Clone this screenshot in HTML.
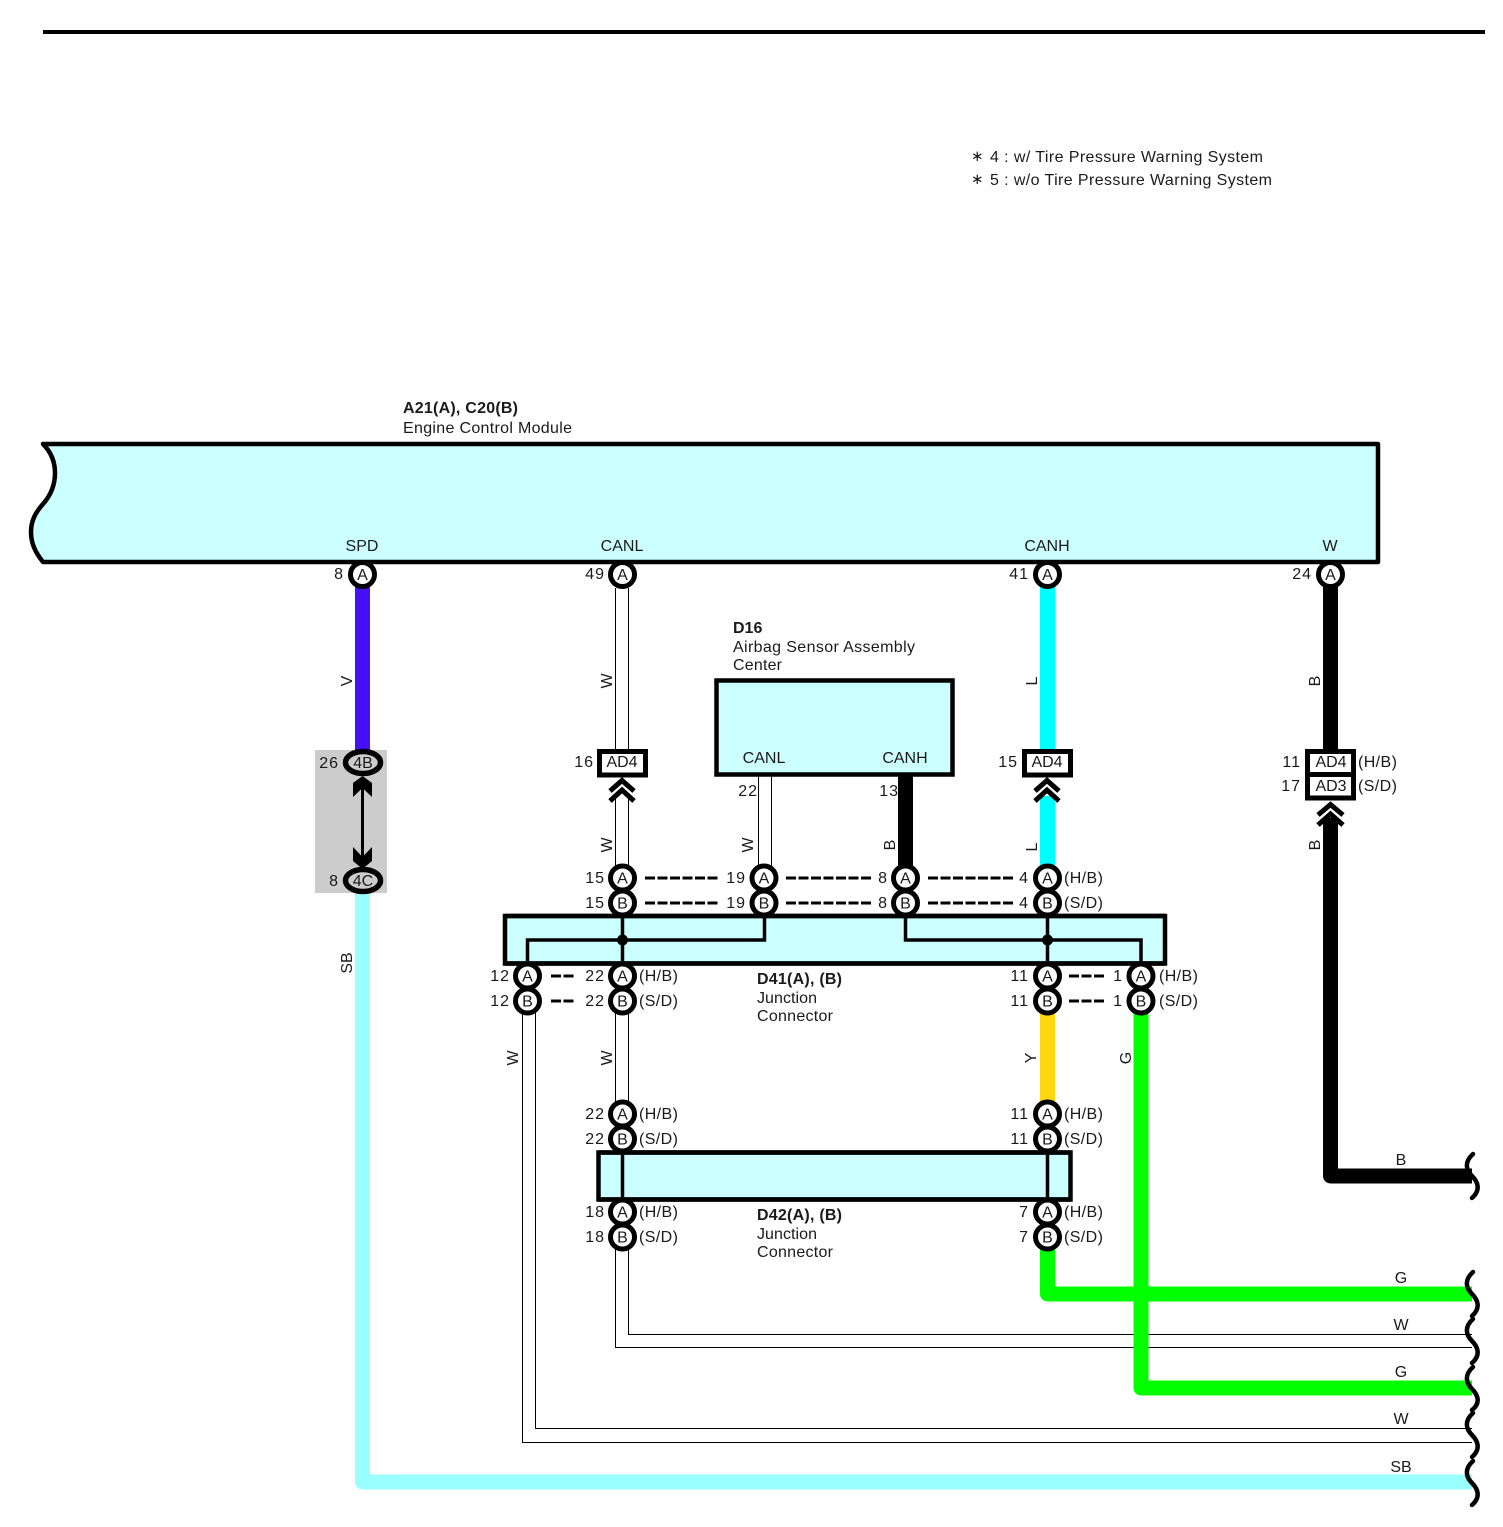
<!DOCTYPE html>
<html><head><meta charset="utf-8"><style>
html,body{margin:0;padding:0;background:#fff}
svg{display:block}
text{font-family:"Liberation Sans",sans-serif;font-size:16px;fill:#1a1a1a}
.m{text-anchor:middle}.e{text-anchor:end;letter-spacing:1px;transform:translateX(1px)}.b{font-weight:bold}
.p{fill:#fff;stroke:#000;stroke-width:5}
.l{font-size:16px;text-anchor:middle}
.t{stroke:#000;stroke-width:1.3;fill:none;shape-rendering:crispEdges}
.k{stroke:#000;fill:#fff;stroke-width:5}
.c{stroke:#000;fill:none;stroke-width:5;stroke-miterlimit:10}
.d{stroke:#000;stroke-width:3;stroke-dasharray:10 2.5;fill:none}
.w{stroke:#000;stroke-width:4.5;fill:none;stroke-linecap:round}
.i{stroke:#000;stroke-width:3.5;fill:none}
.s{letter-spacing:.4px}
</style></head><body>
<svg width="1503" height="1527" viewBox="0 0 1503 1527" xmlns="http://www.w3.org/2000/svg">
<rect width="1503" height="1527" fill="#fff"/>
<rect x="43" y="30" width="1442" height="4" fill="#000"/>

<text x="971" y="161" style="font-size:15px">∗</text>
<text x="990" y="162" textLength="273">4 : w/ Tire Pressure Warning System</text>
<text x="971" y="184" style="font-size:15px">∗</text>
<text x="990" y="185" textLength="282">5 : w/o Tire Pressure Warning System</text>

<text x="403" y="413" class="b" textLength="115">A21(A), C20(B)</text>
<text x="403" y="433" textLength="169">Engine Control Module</text>

<path d="M43 444H1378V562H43C35 552 31 543 31 532C31 520 36 512 43 504C51 495 55 485 55 473C55 461 51 452 43 444Z" fill="#ccffff" stroke="#000" stroke-width="4.5" stroke-linejoin="round"/>
<text x="362" y="551" class="m">SPD</text>
<text x="622" y="551" class="m">CANL</text>
<text x="1047" y="551" class="m">CANH</text>
<text x="1330" y="551" class="m">W</text>

<!-- wires -->
<rect x="355" y="586" width="15" height="166" fill="#4410f5"/>
<rect x="315" y="750" width="72" height="143" fill="#cccccc"/>
<path d="M362.5 893V1482H1472" fill="none" stroke="#99ffff" stroke-width="15" stroke-linejoin="round"/>

<path class="t" d="M615.5 588V750M628.5 588V750M615.5 798V866M628.5 798V866M615.5 1012V1102M628.5 1012V1102"/>
<path class="t" d="M615.5 1248V1347.5H1472M628.5 1248V1334.5H1472"/>
<path class="t" d="M522.5 1012V1442.5H1472M535.5 1012V1428.5H1472"/>
<path class="t" d="M758.5 776V866M771.5 776V866"/>

<rect x="1040" y="586" width="15" height="166" fill="#00ffff"/>
<rect x="1040" y="796" width="15" height="72" fill="#00ffff"/>
<rect x="1040" y="1012" width="15" height="90" fill="#ffd811"/>
<path d="M1047.5 1248V1294H1472" fill="none" stroke="#00ff00" stroke-width="15" stroke-linejoin="round"/>
<path d="M1141 1012V1388H1472" fill="none" stroke="#00ff00" stroke-width="15" stroke-linejoin="round"/>
<path d="M1330.5 586V752M1330.5 818V1176H1472" fill="none" stroke="#000" stroke-width="15" stroke-linejoin="round"/>
<rect x="898" y="774" width="15" height="94" fill="#000"/>

<!-- wavy ends -->
<path class="w" d="M1473 1154C1464 1162 1466 1170 1472 1176S1481 1190 1472 1198"/>
<path class="w" d="M1473 1272C1464 1280 1466 1288 1472 1294S1481 1308 1472 1316"/>
<path class="w" d="M1473 1319C1464 1327 1466 1335 1472 1341S1481 1355 1472 1363"/>
<path class="w" d="M1473 1367C1464 1375 1466 1383 1472 1389S1481 1403 1472 1410"/>
<path class="w" d="M1473 1413C1464 1421 1466 1429 1472 1435S1481 1449 1472 1457"/>
<path class="w" d="M1473 1461C1464 1469 1466 1477 1472 1483S1481 1497 1472 1505"/>

<!-- wire labels -->
<text transform="translate(352 681) rotate(-90)" class="m">V</text>
<text transform="translate(352 963) rotate(-90)" class="m">SB</text>
<text transform="translate(612 681) rotate(-90)" class="m">W</text>
<text transform="translate(612 845) rotate(-90)" class="m">W</text>
<text transform="translate(612 1058) rotate(-90)" class="m">W</text>
<text transform="translate(518 1058) rotate(-90)" class="m">W</text>
<text transform="translate(753 845) rotate(-90)" class="m">W</text>
<text transform="translate(895 845) rotate(-90)" class="m">B</text>
<text transform="translate(1037 681) rotate(-90)" class="m">L</text>
<text transform="translate(1037 847) rotate(-90)" class="m">L</text>
<text transform="translate(1036 1058) rotate(-90)" class="m">Y</text>
<text transform="translate(1131 1058) rotate(-90)" class="m">G</text>
<text transform="translate(1320 681) rotate(-90)" class="m">B</text>
<text transform="translate(1320 845) rotate(-90)" class="m">B</text>
<text x="1401" y="1165" class="m">B</text>
<text x="1401" y="1283" class="m">G</text>
<text x="1401" y="1330" class="m">W</text>
<text x="1401" y="1377" class="m">G</text>
<text x="1401" y="1424" class="m">W</text>
<text x="1401" y="1472" class="m">SB</text>

<!-- gray connector -->
<path d="M362.5 780V864" stroke="#000" stroke-width="3"/>
<path d="M362.5 776L372 783V797L362.5 788L353 797V783Z" fill="#000"/>
<path d="M362.5 869L372 861V847L362.5 857L353 847V861Z" fill="#000"/>
<ellipse cx="363" cy="762.5" rx="17.5" ry="11" fill="#ccc" stroke="#000" stroke-width="5.5"/>
<ellipse cx="363" cy="880.5" rx="17.5" ry="11" fill="#ccc" stroke="#000" stroke-width="5.5"/>
<text x="363" y="768" class="m">4B</text>
<text x="363" y="886" class="m">4C</text>
<text x="338" y="768" class="e">26</text>
<text x="338" y="886" class="e">8</text>

<!-- AD boxes -->
<rect x="599.500" y="751.500" width="46" height="23.500" class="k"/>
<text x="622" y="767" class="m">AD4</text>
<text x="593" y="767" class="e">16</text>
<path class="c" d="M610 791L622 780.500L634 791M610 801L622 790L634 801"/>
<rect x="1024.500" y="751.500" width="46" height="23.500" class="k"/>
<text x="1047" y="767" class="m">AD4</text>
<text x="1017" y="767" class="e">15</text>
<path class="c" d="M1035 791L1047 780.500L1059 791M1035 801L1047 790L1059 801"/>
<rect x="1307.500" y="751.500" width="46" height="46.500" class="k"/>
<path d="M1306.500 774.500H1354.500" stroke="#000" stroke-width="5"/>
<text x="1331" y="767" class="m">AD4</text>
<text x="1331" y="791" class="m">AD3</text>
<text x="1300" y="767" class="e">11</text>
<text x="1300" y="791" class="e">17</text>
<text x="1358" y="767" class="s">(H/B)</text>
<text x="1358" y="791" class="s">(S/D)</text>
<path class="c" d="M1318 815L1330.500 804.500L1343 815M1318 825L1330.500 814L1343 825"/>

<!-- D16 -->
<text x="733" y="633" class="b">D16</text>
<text x="733" y="652" textLength="182">Airbag Sensor Assembly</text>
<text x="733" y="670" textLength="49">Center</text>
<rect x="716.500" y="680.500" width="236" height="94" fill="#ccffff" stroke="#000" stroke-width="4.500"/>
<text x="764" y="763" class="m">CANL</text>
<text x="905" y="763" class="m">CANH</text>
<text x="757" y="796" class="e">22</text>
<text x="898" y="796" class="e">13</text>

<!-- D41 -->
<rect x="505" y="916" width="660" height="47.500" fill="#ccffff" stroke="#000" stroke-width="4.500"/>
<path class="i" d="M527.500 964V940H764.500V916M622.500 916V964M905.500 916V940H1141V964M1047.500 916V964"/>
<circle cx="622.500" cy="940" r="5.500"/><circle cx="1047.500" cy="940" r="5.500"/>

<!-- D42 -->
<rect x="598.500" y="1152.500" width="472" height="47" fill="#ccffff" stroke="#000" stroke-width="4.500"/>
<path class="i" d="M622.500 1152V1200M1047.500 1152V1200"/>

<!-- pins -->
<g class="p">
<circle cx="362.500" cy="574.500" r="12"/><circle cx="622.500" cy="574.500" r="12"/><circle cx="1047.500" cy="574.500" r="12"/><circle cx="1330.500" cy="574.500" r="12"/>
<circle cx="622.500" cy="878" r="12"/><circle cx="764" cy="878" r="12"/><circle cx="905.500" cy="878" r="12"/><circle cx="1047.500" cy="878" r="12"/>
<circle cx="622.500" cy="903" r="12"/><circle cx="764" cy="903" r="12"/><circle cx="905.500" cy="903" r="12"/><circle cx="1047.500" cy="903" r="12"/>
<circle cx="527.500" cy="976" r="12"/><circle cx="622.500" cy="976" r="12"/><circle cx="1047.500" cy="976" r="12"/><circle cx="1141" cy="976" r="12"/>
<circle cx="527.500" cy="1001" r="12"/><circle cx="622.500" cy="1001" r="12"/><circle cx="1047.500" cy="1001" r="12"/><circle cx="1141" cy="1001" r="12"/>
<circle cx="622.500" cy="1114" r="12"/><circle cx="1047.500" cy="1114" r="12"/>
<circle cx="622.500" cy="1139" r="12"/><circle cx="1047.500" cy="1139" r="12"/>
<circle cx="622.500" cy="1212" r="12"/><circle cx="1047.500" cy="1212" r="12"/>
<circle cx="622.500" cy="1237" r="12"/><circle cx="1047.500" cy="1237" r="12"/>
</g>
<path d="M505 916H1165M598.500 1152.500H1070.500M505 963.500H1165M598.500 1199.500H1070.500" stroke="#000" stroke-width="4.500"/>
<g>
<text class="l" x="362.500" y="580">A</text><text class="l" x="622.500" y="580">A</text><text class="l" x="1047.500" y="580">A</text><text class="l" x="1330.500" y="580">A</text>
<text class="l" x="622.500" y="883.500">A</text><text class="l" x="764" y="883.500">A</text><text class="l" x="905.500" y="883.500">A</text><text class="l" x="1047.500" y="883.500">A</text>
<text class="l" x="622.500" y="908.500">B</text><text class="l" x="764" y="908.500">B</text><text class="l" x="905.500" y="908.500">B</text><text class="l" x="1047.500" y="908.500">B</text>
<text class="l" x="527.500" y="981.500">A</text><text class="l" x="622.500" y="981.500">A</text><text class="l" x="1047.500" y="981.500">A</text><text class="l" x="1141" y="981.500">A</text>
<text class="l" x="527.500" y="1006.500">B</text><text class="l" x="622.500" y="1006.500">B</text><text class="l" x="1047.500" y="1006.500">B</text><text class="l" x="1141" y="1006.500">B</text>
<text class="l" x="622.500" y="1119.500">A</text><text class="l" x="1047.500" y="1119.500">A</text>
<text class="l" x="622.500" y="1144.500">B</text><text class="l" x="1047.500" y="1144.500">B</text>
<text class="l" x="622.500" y="1217.500">A</text><text class="l" x="1047.500" y="1217.500">A</text>
<text class="l" x="622.500" y="1242.500">B</text><text class="l" x="1047.500" y="1242.500">B</text>
</g>

<!-- pin numbers -->
<text x="343" y="579" class="e">8</text><text x="604" y="579" class="e">49</text><text x="1028" y="579" class="e">41</text><text x="1311" y="579" class="e">24</text>

<text x="604" y="883" class="e">15</text><text x="745" y="883" class="e">19</text><text x="887" y="883" class="e">8</text><text x="1028" y="883" class="e">4</text><text x="1064" y="883" class="s">(H/B)</text>
<text x="604" y="908" class="e">15</text><text x="745" y="908" class="e">19</text><text x="887" y="908" class="e">8</text><text x="1028" y="908" class="e">4</text><text x="1064" y="908" class="s">(S/D)</text>

<text x="509" y="981" class="e">12</text><text x="604" y="981" class="e">22</text><text x="639" y="981" class="s">(H/B)</text><text x="1028" y="981" class="e">11</text><text x="1122" y="981" class="e">1</text><text x="1159" y="981" class="s">(H/B)</text>
<text x="509" y="1006" class="e">12</text><text x="604" y="1006" class="e">22</text><text x="639" y="1006" class="s">(S/D)</text><text x="1028" y="1006" class="e">11</text><text x="1122" y="1006" class="e">1</text><text x="1159" y="1006" class="s">(S/D)</text>

<text x="604" y="1119" class="e">22</text><text x="639" y="1119" class="s">(H/B)</text><text x="1028" y="1119" class="e">11</text><text x="1064" y="1119" class="s">(H/B)</text>
<text x="604" y="1144" class="e">22</text><text x="639" y="1144" class="s">(S/D)</text><text x="1028" y="1144" class="e">11</text><text x="1064" y="1144" class="s">(S/D)</text>
<text x="604" y="1217" class="e">18</text><text x="639" y="1217" class="s">(H/B)</text><text x="1028" y="1217" class="e">7</text><text x="1064" y="1217" class="s">(H/B)</text>
<text x="604" y="1242" class="e">18</text><text x="639" y="1242" class="s">(S/D)</text><text x="1028" y="1242" class="e">7</text><text x="1064" y="1242" class="s">(S/D)</text>

<!-- dashes -->
<path class="d" d="M645 878H718M645 903H718M786 878H872M786 903H872M928 878H1013M928 903H1013"/>
<path class="d" d="M551 976H574M551 1001H574M1069 976H1106M1069 1001H1106"/>

<text x="757" y="984" class="b" textLength="85">D41(A), (B)</text>
<text x="757" y="1003" textLength="60">Junction</text>
<text x="757" y="1021" textLength="76">Connector</text>
<text x="757" y="1220" class="b" textLength="85">D42(A), (B)</text>
<text x="757" y="1239" textLength="60">Junction</text>
<text x="757" y="1257" textLength="76">Connector</text>
</svg>
</body></html>
